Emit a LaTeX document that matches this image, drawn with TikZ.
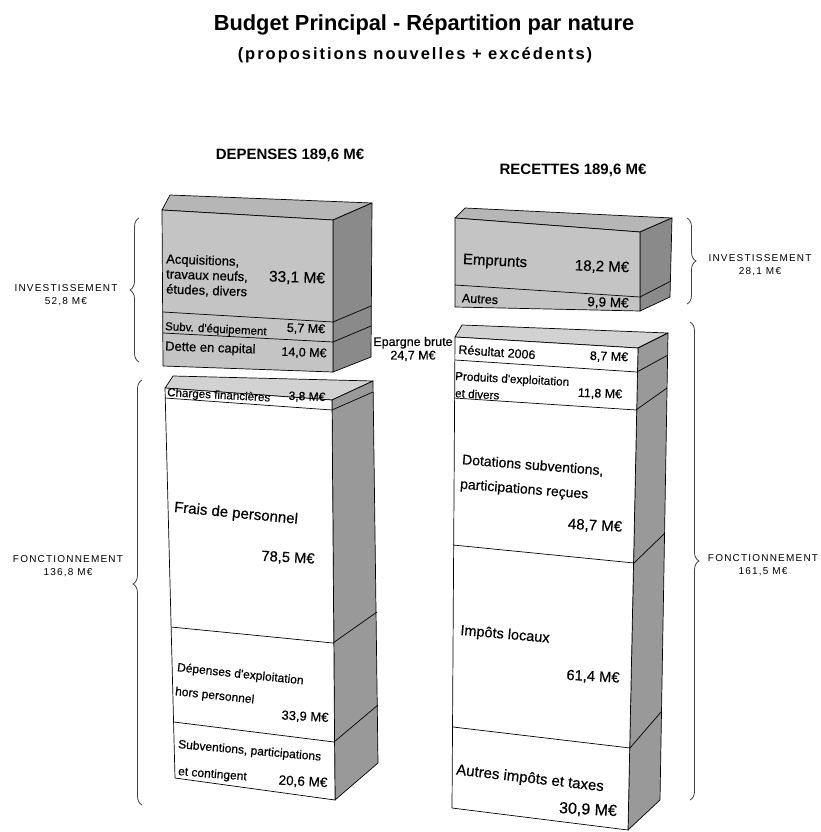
\documentclass[tikz,border=0pt]{standalone}
\usepackage{fontspec}
\setmainfont{Liberation Sans}
\newfontfamily\boxfont[FakeBold=0.4]{Liberation Sans}
\usetikzlibrary{decorations.pathreplacing}
\definecolor{frontgray}{HTML}{C4C4C4}
\definecolor{topgray}{HTML}{B6B6B6}
\definecolor{sidegray}{HTML}{8A8A8A}
\definecolor{lowside}{HTML}{999999}
\definecolor{lowtop}{HTML}{D2D2D2}
\definecolor{bracegray}{HTML}{404040}
\newcommand\fsz[2]{\fontsize{#1}{#2}\selectfont}
\newcommand\bxf[1]{\boxfont\fontsize{#1}{#1}\selectfont}
\begin{document}
\begin{tikzpicture}[x=1pt,y=-1pt,
  face/.style={draw=black,line width=0.7pt,line join=round},
  edge/.style={draw=black,line width=0.7pt,line join=round},
  txt/.style={inner sep=0pt,text=black},
  lt/.style={txt,anchor=west},
  brc/.style={draw=bracegray,line width=0.8pt,decorate,decoration={brace,amplitude=9pt,aspect=#1}},
  brc/.default=0.5,
  sidelbl/.style={inner sep=0pt,align=center,font=\fsz{10}{13.5}\addfontfeatures{LetterSpace=12}}
]
\useasboundingbox (0,0) rectangle (820,832);

% ---------------- headings
\node[txt,font=\fsz{21.8}{24}\bfseries] (title) at (424,25) {Budget Principal - Répartition par nature};
\node[txt,font=\fsz{16.5}{18}\bfseries\addfontfeatures{LetterSpace=12}] (subtitle) at (415,55) {(propositions nouvelles + excédents)};
\node[txt,font=\fsz{15}{17}\bfseries] (dep) at (290,155) {DEPENSES 189,6 M€};
\node[txt,font=\fsz{15}{17}\bfseries] (rec) at (573,170) {RECETTES 189,6 M€};

% ---------------- left upper block (investissement)
\draw[face,fill=topgray] (162,210) -- (170,195) -- (372,203) -- (333,220) -- cycle;
\draw[face,fill=sidegray] (333,220) -- (372,203) -- (371,357) -- (333,372) -- cycle;
\draw[face,fill=frontgray] (162,210) -- (333,220) -- (333,372) -- (163,366) -- cycle;
\draw[edge] (163,312) -- (333,322) -- (371,306);
\draw[edge] (163,333) -- (333,342) -- (371,326);

% ---------------- left lower block (fonctionnement)
\draw[face,fill=lowtop] (165,388) -- (173,376) -- (373,381) -- (332,400) -- cycle;
\draw[face,fill=lowside] (332,400) -- (373,381) -- (378,763) -- (335,800) -- cycle;
\draw[face,fill=white] (165,388) -- (332,400) -- (335,800) -- (175,778) -- cycle;
\draw[edge] (165,398) -- (332,410) -- (373,392);
\draw[edge] (171,627) -- (333,643) -- (377,612);
\draw[edge] (174,722) -- (334,742) -- (378,705);

% ---------------- right upper block (investissement)
\draw[face,fill=topgray] (455,218) -- (465,208) -- (672,218) -- (640,232) -- cycle;
\draw[face,fill=sidegray] (640,232) -- (672,218) -- (670,297) -- (640,311) -- cycle;
\draw[face,fill=frontgray] (455,218) -- (640,232) -- (640,311) -- (455,307) -- cycle;
\draw[edge] (455,285) -- (640,297) -- (671,281);

% ---------------- right lower block (fonctionnement)
\draw[face,fill=lowtop] (455,337) -- (462,325) -- (668,333) -- (638,348) -- cycle;
\draw[face,fill=lowside] (638,348) -- (668,333) -- (660,800) -- (628,830) -- cycle;
\draw[face,fill=white] (455,337) -- (638,348) -- (628,830) -- (452,808) -- cycle;
\draw[edge] (455,360) -- (637,372) -- (668,355);
\draw[edge] (454,398) -- (636,410) -- (667,388);
\draw[edge] (453,545) -- (634,563) -- (665,533);
\draw[edge] (453,727) -- (630,748) -- (661,712);

% ---------------- texts, left upper
\node[lt,font=\bxf{13},rotate=-2] (acq1) at (166,260) {Acquisitions,};
\node[lt,font=\bxf{13},rotate=-2] (acq2) at (166,274.5) {travaux neufs,};
\node[lt,font=\bxf{13},rotate=-2] (acq3) at (166,289.5) {études, divers};
\node[txt,font=\bxf{15.5},rotate=-2] (v331) at (297,278) {33,1 M€};
\node[lt,font=\bxf{11.5},rotate=-3] (subv) at (165,327) {Subv. d'équipement};
\node[txt,font=\bxf{12.5},rotate=-2] (v57) at (306,329) {5,7 M€};
\node[lt,font=\bxf{13},rotate=-2] (dette) at (165,347) {Dette en capital};
\node[txt,font=\bxf{12.5},rotate=-2] (v140) at (304,353) {14,0 M€};

% ---------------- texts, left lower
\node[lt,font=\bxf{11.6},rotate=-3] (charges) at (167,393) {Charges financières};
\node[txt,font=\bxf{12},rotate=-2] (v38) at (307,397) {3,8 M€};
\node[txt,font=\bxf{15},rotate=-5.5] (frais) at (236,514) {Frais de personnel};
\node[txt,font=\bxf{14.7},rotate=-3] (v785) at (288,558) {78,5 M€};
\node[lt,font=\bxf{12},rotate=-6] (depexp1) at (177,668) {Dépenses d'exploitation};
\node[lt,font=\bxf{12},rotate=-6] (depexp2) at (175,692) {hors personnel};
\node[txt,font=\bxf{13},rotate=-3] (v339) at (305,717) {33,9 M€};
\node[lt,font=\bxf{12},rotate=-5] (subvp1) at (178,745) {Subventions, participations};
\node[lt,font=\bxf{12},rotate=-4.5] (subvp2) at (178,772) {et contingent};
\node[txt,font=\bxf{13.5},rotate=-3] (v206) at (303,782) {20,6 M€};

% ---------------- texts, right upper
\node[txt,font=\bxf{15},rotate=-3] (empr) at (495,262) {Emprunts};
\node[txt,font=\bxf{15},rotate=-2] (v182) at (602,267) {18,2 M€};
\node[txt,font=\bxf{12.5},rotate=-3] (autres) at (480,299) {Autres};
\node[txt,font=\bxf{13.5},rotate=-2] (v99) at (608,303) {9,9 M€};

% ---------------- texts, right lower
\node[txt,font=\bxf{12.5},rotate=-4] (resultat) at (497,352) {Résultat 2006};
\node[txt,font=\bxf{12.5},rotate=-2] (v87) at (609,357) {8,7 M€};
\node[lt,font=\bxf{11.7},rotate=-3] (produits1) at (455,377) {Produits d'exploitation};
\node[lt,font=\bxf{11.7},rotate=-3] (produits2) at (455,393) {et divers};
\node[txt,font=\bxf{12.5},rotate=-2] (v118) at (600,394) {11,8 M€};
\node[lt,font=\bxf{14},rotate=-4.5] (dotations1) at (462,460) {Dotations subventions,};
\node[lt,font=\bxf{14},rotate=-4.5] (dotations2) at (460,485) {participations reçues};
\node[txt,font=\bxf{15},rotate=-3] (v487) at (595,526) {48,7 M€};
\node[txt,font=\bxf{14.5},rotate=-5] (impots) at (505,635) {Impôts locaux};
\node[txt,font=\bxf{14.7},rotate=-3] (v614) at (593,677) {61,4 M€};
\node[txt,font=\bxf{15},rotate=-6.5] (autresimp) at (530,779) {Autres impôts et taxes};
\node[txt,font=\bxf{16},rotate=-3] (v309) at (588,810) {30,9 M€};

% ---------------- epargne brute
\node[txt,align=center,font=\boxfont\fsz{12.5}{13.5}] (epargne) at (413,349) {Epargne brute\\24,7 M€};

% ---------------- braces and side labels
\coordinate (liB) at (139,362); \coordinate (liT) at (139,218);
\coordinate (lfB) at (142,805); \coordinate (lfT) at (142,380);
\coordinate (riT) at (687,218); \coordinate (riB) at (687,304);
\coordinate (rfT) at (690,322); \coordinate (rfB) at (690,800);
\draw[brc=0.5] (liB) -- (liT);
\draw[brc=0.52] (lfB) -- (lfT);
\draw[brc=0.5] (riT) -- (riB);
\draw[brc=0.5] (rfT) -- (rfB);

\node[sidelbl] (linv) at (66,295) {INVESTISSEMENT\\52,8 M€};
\node[sidelbl] (lfon) at (68,566) {FONCTIONNEMENT\\136,8 M€};
\node[sidelbl] (rinv) at (760,265) {INVESTISSEMENT\\28,1 M€};
\node[sidelbl] (rfon) at (763,565) {FONCTIONNEMENT\\161,5 M€};
\end{tikzpicture}
\end{document}
